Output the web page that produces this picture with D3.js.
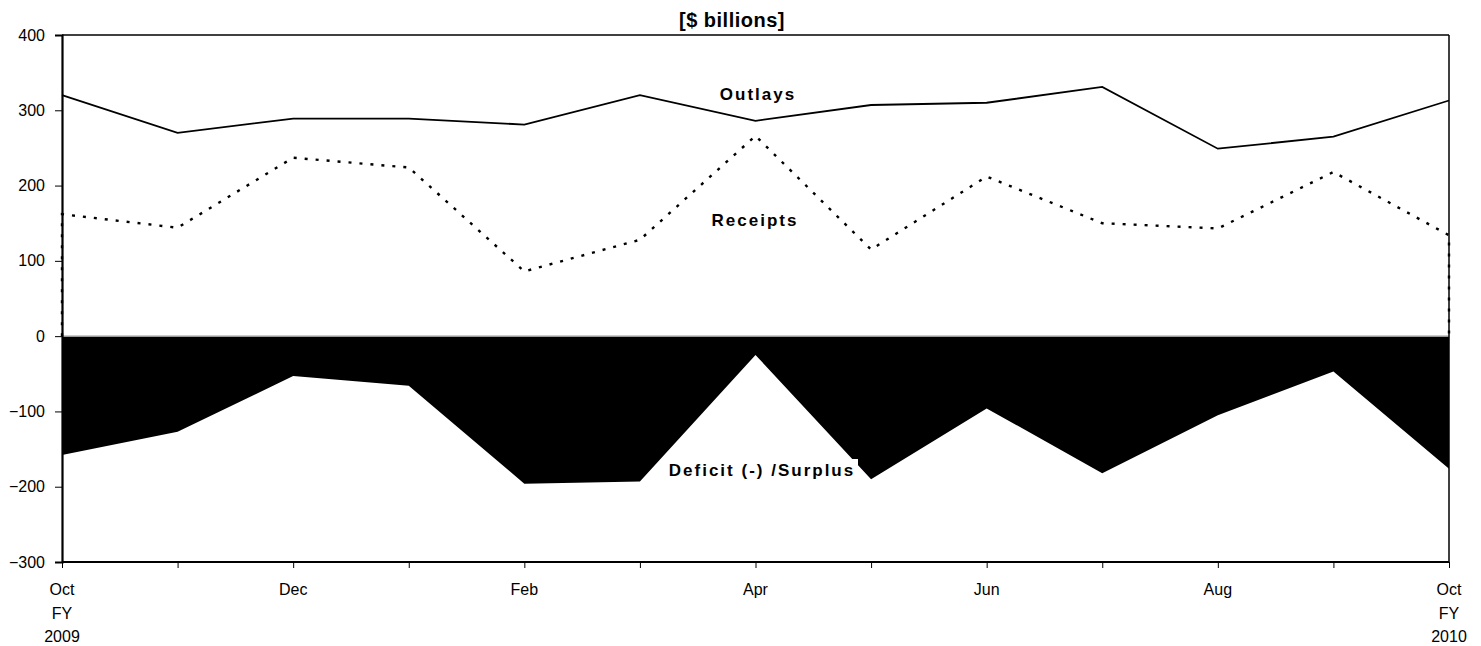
<!DOCTYPE html>
<html>
<head>
<meta charset="utf-8">
<script src="https://cdn.jsdelivr.net/npm/d3@7"></script>
<style>
  html, body { margin: 0; padding: 0; background: #fff; }
  svg { display: block; font-family: "Liberation Sans", Arial, sans-serif; }
</style>
</head>
<body>
<svg id="chart" width="1481" height="646"></svg>
<script>
// ---- data ----
const months = ["Oct09", "Nov", "Dec", "Jan", "Feb", "Mar", "Apr", "May", "Jun", "Jul", "Aug", "Sep", "Oct10"];
const monthLabels = [["Oct", "FY", "2009"], [], ["Dec"], [], ["Feb"], [], ["Apr"], [], ["Jun"], [], ["Aug"], [], ["Oct", "FY", "2010"]];
const outlays  = [320, 270, 289, 289, 281, 320, 286, 307, 310, 331, 249, 265, 313];
const receipts = [162, 144, 237, 224, 86, 128, 266, 115, 212, 150, 143, 218, 134];
const deficit  = [-158, -127, -53, -66, -196, -193, -25, -190, -96, -182, -105, -47, -176];
const yTicks   = [400, 300, 200, 100, 0, -100, -200, -300];
const title = "[$ billions]";
const seriesLabels = { outlays: "Outlays", receipts: "Receipts", deficit: "Deficit (-) /Surplus" };

// ---- layout ----
const svg = d3.select("#chart");
const L = 62, R = 1449, T = 35, B = 562;
const FONT = "'Liberation Sans', Arial, sans-serif";

const x = d3.scalePoint().domain(months).range([L, R]);
const y = d3.scaleLinear().domain([-300, 400]).range([B, T]);

// deficit area
svg.append("path")
  .datum(months.map((m, i) => ({ m, v: deficit[i] })))
  .attr("fill", "#000")
  .attr("d", d3.area().x(d => x(d.m)).y0(y(0)).y1(d => y(d.v)));

// zero line
svg.append("line")
  .attr("x1", L).attr("x2", R).attr("y1", y(0)).attr("y2", y(0))
  .attr("stroke", "#9a9a9a").attr("stroke-width", 1.5);

// receipts dotted line (with drops to zero at both ends)
const recPts = [{ m: months[0], v: 0 }]
  .concat(months.map((m, i) => ({ m, v: receipts[i] })))
  .concat([{ m: months[months.length - 1], v: 0 }]);
svg.append("path")
  .datum(recPts)
  .attr("fill", "none")
  .attr("stroke", "#000")
  .attr("stroke-width", 2.4)
  .attr("stroke-dasharray", "3,8")
  .attr("d", d3.line().x(d => x(d.m)).y(d => y(d.v)));

// outlays line
svg.append("path")
  .datum(months.map((m, i) => ({ m, v: outlays[i] })))
  .attr("fill", "none")
  .attr("stroke", "#000")
  .attr("stroke-width", 1.8)
  .attr("d", d3.line().x(d => x(d.m)).y(d => y(d.v)));

// frame
svg.append("line").attr("x1", L).attr("x2", R).attr("y1", T).attr("y2", T)
  .attr("stroke", "#000").attr("stroke-width", 1.5);
svg.append("line").attr("x1", R).attr("x2", R).attr("y1", T).attr("y2", B)
  .attr("stroke", "#000").attr("stroke-width", 1.5);

// y axis
const yAxis = d3.axisLeft(y).tickValues(yTicks).tickSize(7).tickPadding(10).tickFormat(d3.format("d"));
const gy = svg.append("g").attr("transform", `translate(${L},0)`).call(yAxis);
gy.select(".domain").attr("stroke-width", 2.2);
gy.selectAll("text").attr("font-size", 16).attr("fill", "#000").attr("font-family", FONT);

// x axis
const xAxis = d3.axisBottom(x).tickSize(6).tickFormat("");
const gx = svg.append("g").attr("transform", `translate(0,${B})`).call(xAxis);
gx.select(".domain").attr("stroke-width", 2.2).attr("d", `M${L},0H${R}`);
gx.selectAll(".tick line").attr("stroke-width", 1);

// x labels (multi-line)
months.forEach((m, i) => {
  monthLabels[i].forEach((txt, j) => {
    svg.append("text")
      .attr("x", x(m)).attr("y", 595 + j * 23.5)
      .attr("text-anchor", "middle")
      .attr("font-size", 16)
      .text(txt);
  });
});

// title
svg.append("text")
  .attr("x", 732).attr("y", 27)
  .attr("text-anchor", "middle")
  .attr("font-size", 20).attr("font-weight", "bold")
  .attr("letter-spacing", 0.5)
  .text(title);

// series labels
function label(txt, cx, by) {
  return svg.append("text")
    .attr("x", cx + 1).attr("y", by)
    .attr("text-anchor", "middle").attr("font-size", 17).attr("font-weight", "bold")
    .attr("letter-spacing", 2)
    .text(txt);
}
label(seriesLabels.outlays, 757, 100);
label(seriesLabels.receipts, 754, 226);

const defG = svg.append("g");
const defText = defG.append("text")
  .attr("x", 762).attr("y", 476)
  .attr("text-anchor", "middle").attr("font-size", 17).attr("font-weight", "bold")
  .attr("letter-spacing", 2)
  .text(seriesLabels.deficit);
const bb = defText.node().getBBox();
defG.insert("rect", "text")
  .attr("x", bb.x - 4).attr("y", 459)
  .attr("width", 858 - bb.x + 4).attr("height", bb.y + bb.height - 459 + 4)
  .attr("fill", "#fff");
</script>
</body>
</html>
